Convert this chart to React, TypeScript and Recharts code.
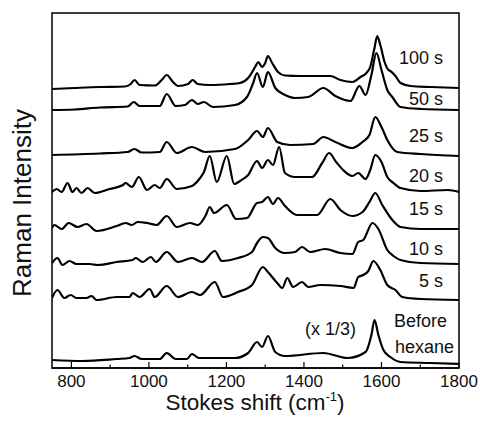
import { LineChart, Line, XAxis, YAxis, ReferenceArea } from "recharts";

// [Stokes shift (cm-1), intensity (a.u., traces stacked with offsets)]
type Pt = [number, number];

const spec100s: Pt[] = [
  [750, 279], [808, 280], [873, 281], [938, 281.5], [953, 284], [963, 288], [976, 283], [1015, 282.5],
  [1033, 288], [1046, 293], [1062, 286], [1075, 282], [1101, 284], [1113, 288], [1126, 284], [1157, 283],
  [1209, 284], [1235, 285], [1256, 290], [1274, 301], [1282, 306], [1292, 301], [1300, 305], [1307, 312],
  [1318, 305], [1333, 296], [1351, 292.5], [1390, 292], [1442, 292], [1468, 292], [1494, 288], [1525, 286],
  [1546, 291], [1561, 295], [1571, 301], [1582, 320], [1589, 332], [1597, 323], [1608, 306], [1618, 298],
  [1623, 297], [1636, 292], [1649, 285], [1675, 282], [1727, 281], [1800, 280],
];

const spec50s: Pt[] = [
  [750, 258], [808, 258.5], [873, 260.5], [945, 261.5], [961, 266], [976, 262], [1028, 262], [1046, 274],
  [1069, 262], [1093, 263], [1111, 268], [1126, 264], [1142, 266], [1165, 261], [1222, 263], [1253, 271],
  [1269, 285], [1279, 295], [1294, 281], [1307, 296], [1326, 280], [1351, 273], [1377, 270], [1411, 271],
  [1450, 280], [1481, 272], [1520, 267], [1543, 282], [1559, 273], [1574, 293], [1587, 315], [1600, 298],
  [1615, 278], [1628, 271], [1649, 261], [1701, 259], [1800, 258],
];

const spec25s: Pt[] = [
  [750, 213], [873, 214.5], [945, 216], [963, 219], [981, 215.5], [1028, 216], [1046, 226], [1072, 215],
  [1111, 221], [1145, 216], [1222, 219], [1256, 228], [1279, 237], [1294, 231], [1307, 240], [1331, 226],
  [1364, 223], [1424, 224], [1450, 231], [1481, 226], [1525, 220], [1551, 226], [1569, 233], [1584, 251],
  [1600, 241], [1615, 228], [1641, 216], [1701, 214], [1800, 212],
];

const spec20s: Pt[] = [
  [750, 176], [762, 179], [775, 176], [790, 185], [803, 176], [813, 180], [826, 175], [842, 180],
  [860, 175], [899, 179], [933, 183], [940, 185], [956, 181], [974, 191], [995, 178], [1015, 183],
  [1028, 180], [1046, 189], [1072, 179], [1111, 182], [1132, 190], [1142, 196], [1157, 212], [1175, 186],
  [1201, 212], [1220, 184], [1235, 187], [1256, 193], [1279, 207], [1292, 200], [1307, 208], [1320, 203],
  [1336, 221], [1351, 195], [1377, 191], [1421, 191], [1447, 205], [1465, 215], [1483, 206], [1501, 198],
  [1525, 192], [1540, 195], [1559, 189], [1571, 198], [1584, 213], [1600, 206], [1615, 191], [1631, 185],
  [1649, 180], [1701, 177], [1771, 178], [1800, 176],
];

const spec15s: Pt[] = [
  [750, 140], [756, 143], [775, 139], [793, 145], [816, 141], [839, 144], [865, 137], [917, 142],
  [940, 145], [956, 143], [971, 146], [995, 145], [1020, 143], [1046, 152], [1072, 141], [1106, 145],
  [1126, 143], [1147, 153], [1157, 161], [1168, 155], [1201, 163], [1225, 149], [1253, 150], [1279, 165],
  [1292, 166], [1307, 171], [1320, 164], [1333, 170], [1351, 162], [1382, 153], [1434, 153], [1468, 169],
  [1494, 158], [1525, 152], [1551, 156], [1569, 166], [1584, 175], [1602, 163], [1628, 148], [1649, 141],
  [1701, 139], [1800, 139],
];

const spec10s: Pt[] = [
  [750, 105], [764, 110], [777, 103], [795, 107], [813, 104], [847, 104], [868, 103], [917, 106],
  [958, 108], [966, 110], [984, 106], [1005, 111], [1018, 106], [1046, 116], [1075, 106], [1111, 110],
  [1137, 106], [1170, 117], [1188, 107], [1230, 110], [1266, 116], [1279, 125], [1294, 131], [1307, 130],
  [1326, 120], [1351, 115], [1377, 116], [1395, 121], [1416, 116], [1455, 119], [1494, 115], [1525, 114],
  [1540, 126], [1553, 128], [1577, 145], [1592, 139], [1615, 118], [1631, 112], [1649, 108], [1701, 105],
  [1800, 104],
];

const spec5s: Pt[] = [
  [750, 70], [764, 78], [782, 70], [798, 73], [813, 70], [839, 70], [852, 72], [865, 68],
  [917, 71], [950, 71], [958, 75], [976, 71], [1002, 79], [1015, 71], [1046, 82], [1075, 71],
  [1111, 76], [1132, 73], [1170, 86], [1191, 71], [1230, 76], [1266, 83], [1294, 101], [1307, 96],
  [1331, 85], [1344, 80], [1357, 90], [1372, 81], [1395, 86], [1411, 81], [1442, 83], [1494, 82],
  [1528, 80], [1540, 91], [1553, 93], [1566, 97], [1579, 107], [1597, 98], [1615, 83], [1636, 78],
  [1654, 71], [1701, 69], [1800, 68],
];

const specBefore: Pt[] = [
  [750, 8], [829, 7], [917, 9], [950, 10], [963, 12], [981, 9], [1028, 9], [1046, 15],
  [1069, 9], [1098, 9], [1111, 14], [1129, 10], [1222, 10], [1256, 15], [1279, 26], [1292, 21],
  [1307, 32], [1326, 16], [1351, 12], [1450, 15], [1512, 10], [1559, 16], [1574, 33], [1582, 48],
  [1592, 33], [1605, 18], [1623, 11], [1649, 6], [1727, 5], [1800, 4],
];

const spectra = [
  { name: "100 s", data: spec100s },
  { name: "50 s", data: spec50s },
  { name: "25 s", data: spec25s },
  { name: "20 s", data: spec20s },
  { name: "15 s", data: spec15s },
  { name: "10 s", data: spec10s },
  { name: "5 s", data: spec5s },
  { name: "Before hexane", data: specBefore },
];

const xTicks = [800, 900, 1000, 1100, 1200, 1300, 1400, 1500, 1600, 1700, 1800];
const yTicks = [0, 59.2, 118.3, 177.5, 236.7, 295.8, 355];

const FONT = "'Liberation Sans', Arial, sans-serif";

function StokesTick(props: any) {
  const { x, y, payload } = props;
  const major = payload.value % 200 === 0;
  return (
    <g>
      <line x1={x} y1={y} x2={x} y2={y - (major ? 6 : 3.5)} stroke="#000" strokeWidth={1.2} />
      {major && (
        <text x={x} y={y + 19} textAnchor="middle" fontSize={17} fontFamily={FONT} fill="#111">
          {payload.value}
        </text>
      )}
    </g>
  );
}

const labelStyle: React.CSSProperties = {
  position: "absolute",
  fontFamily: FONT,
  fontSize: 18,
  lineHeight: "18px",
  color: "#111",
  whiteSpace: "nowrap",
};

const timeLabels = [
  { text: "100 s", top: 49 },
  { text: "50 s", top: 90 },
  { text: "25 s", top: 127 },
  { text: "20 s", top: 167 },
  { text: "15 s", top: 200 },
  { text: "10 s", top: 240 },
  { text: "5 s", top: 272 },
];

export default function App() {
  return (
    <div style={{ position: "absolute", left: 0, top: 0, width: 480, height: 428, background: "#fff" }}>
      <LineChart width={480} height={428} margin={{ top: 13, right: 21, bottom: 0, left: 52 }}>
        <XAxis
          type="number"
          dataKey="w"
          domain={[750, 1800]}
          ticks={xTicks}
          allowDataOverflow
          height={60}
          tickSize={0}
          tickMargin={0}
          tickLine={false}
          axisLine={{ stroke: "#000", strokeWidth: 1.5 }}
          tick={<StokesTick />}
        />
        <YAxis
          type="number"
          domain={[0, 355]}
          ticks={yTicks}
          width={0}
          mirror
          tick={false}
          tickSize={6}
          tickLine={{ stroke: "#000", strokeWidth: 1.2 }}
          axisLine={{ stroke: "#000", strokeWidth: 1.5 }}
        />
        <ReferenceArea x1={750} x2={1800} y1={0} y2={355} fill="none" stroke="#000" strokeWidth={1.5} />
        {spectra.map((s) => (
          <Line
            key={s.name}
            name={s.name}
            data={s.data.map(([w, v]) => ({ w, v }))}
            dataKey="v"
            type="monotone"
            stroke="#000"
            strokeWidth={2.2}
            dot={false}
            activeDot={false}
            isAnimationActive={false}
          />
        ))}
      </LineChart>

      {timeLabels.map((l) => (
        <div key={l.text} style={{ ...labelStyle, right: 37, top: l.top }}>
          {l.text}
        </div>
      ))}
      <div style={{ ...labelStyle, left: 394, top: 312 }}>Before</div>
      <div style={{ ...labelStyle, left: 395, top: 338 }}>hexane</div>
      <div style={{ ...labelStyle, left: 305, top: 320 }}>(x 1/3)</div>

      <div
        style={{
          ...labelStyle,
          fontSize: 22.5,
          lineHeight: "22px",
          left: 255,
          top: 392,
          transform: "translateX(-50%)",
        }}
      >
        Stokes shift (cm<sup style={{ fontSize: 13, verticalAlign: "9px", lineHeight: 0 }}>-1</sup>)
      </div>
      <div
        style={{
          ...labelStyle,
          fontSize: 26,
          lineHeight: "26px",
          left: 22,
          top: 203,
          transform: "translate(-50%, -50%) rotate(-90deg)",
        }}
      >
        Raman Intensity
      </div>
    </div>
  );
}
